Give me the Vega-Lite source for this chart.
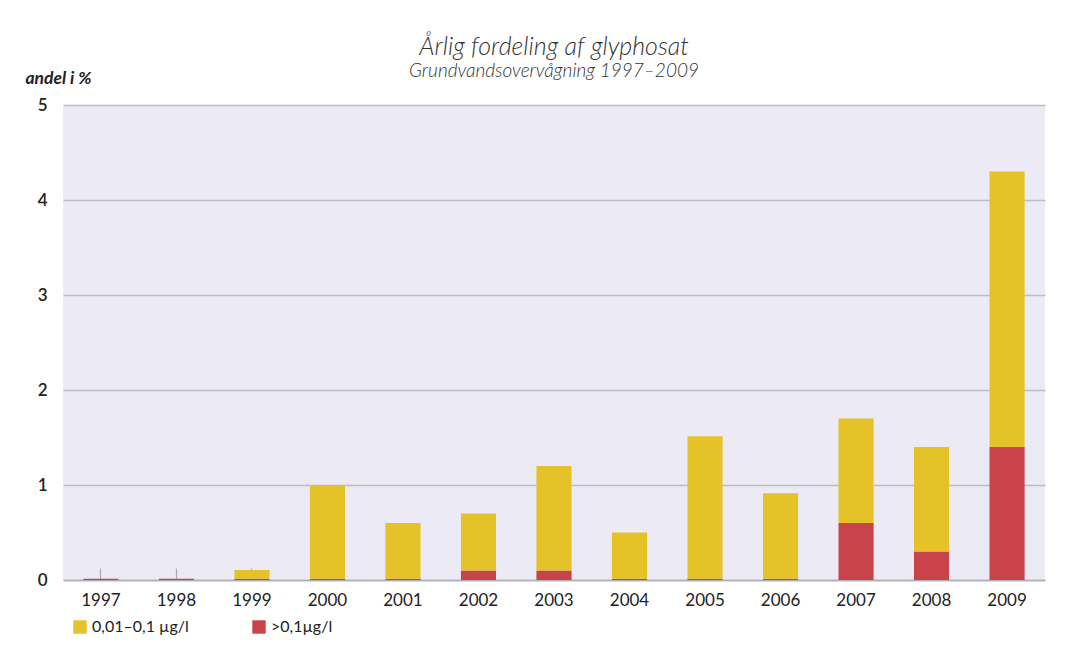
{
  "$schema": "https://vega.github.io/schema/vega-lite/v6.json",
  "width": 982,
  "height": 475,
  "autosize": {"type": "none"},
  "padding": {"left": 63, "top": 105, "right": 21, "bottom": 75},
  "background": "white",
  "title": {
    "text": "Årlig fordeling af glyphosat",
    "subtitle": "Grundvandsovervågning 1997–2009",
    "anchor": "middle",
    "font": "Lato",
    "fontStyle": "italic",
    "fontWeight": 300,
    "fontSize": 25,
    "color": "#333333",
    "subtitleFont": "Lato",
    "subtitleFontStyle": "italic",
    "subtitleFontWeight": 300,
    "subtitleFontSize": 19,
    "subtitleColor": "#333333",
    "subtitlePadding": 2,
    "offset": -12
  },
  "data": {
    "values": [
      {"year": "1997", "cat": ">0,1µg/l", "ord": 1, "value": 0.012},
      {"year": "1997", "cat": "0,01–0,1 µg/l", "ord": 2, "value": 0},
      {"year": "1998", "cat": ">0,1µg/l", "ord": 1, "value": 0.012},
      {"year": "1998", "cat": "0,01–0,1 µg/l", "ord": 2, "value": 0},
      {"year": "1999", "cat": ">0,1µg/l", "ord": 1, "value": 0.012},
      {"year": "1999", "cat": "0,01–0,1 µg/l", "ord": 2, "value": 0.093},
      {"year": "2000", "cat": ">0,1µg/l", "ord": 1, "value": 0.012},
      {"year": "2000", "cat": "0,01–0,1 µg/l", "ord": 2, "value": 0.988},
      {"year": "2001", "cat": ">0,1µg/l", "ord": 1, "value": 0.012},
      {"year": "2001", "cat": "0,01–0,1 µg/l", "ord": 2, "value": 0.588},
      {"year": "2002", "cat": ">0,1µg/l", "ord": 1, "value": 0.1},
      {"year": "2002", "cat": "0,01–0,1 µg/l", "ord": 2, "value": 0.6},
      {"year": "2003", "cat": ">0,1µg/l", "ord": 1, "value": 0.1},
      {"year": "2003", "cat": "0,01–0,1 µg/l", "ord": 2, "value": 1.1},
      {"year": "2004", "cat": ">0,1µg/l", "ord": 1, "value": 0.012},
      {"year": "2004", "cat": "0,01–0,1 µg/l", "ord": 2, "value": 0.488},
      {"year": "2005", "cat": ">0,1µg/l", "ord": 1, "value": 0.012},
      {"year": "2005", "cat": "0,01–0,1 µg/l", "ord": 2, "value": 1.5},
      {"year": "2006", "cat": ">0,1µg/l", "ord": 1, "value": 0.012},
      {"year": "2006", "cat": "0,01–0,1 µg/l", "ord": 2, "value": 0.9},
      {"year": "2007", "cat": ">0,1µg/l", "ord": 1, "value": 0.6},
      {"year": "2007", "cat": "0,01–0,1 µg/l", "ord": 2, "value": 1.1},
      {"year": "2008", "cat": ">0,1µg/l", "ord": 1, "value": 0.3},
      {"year": "2008", "cat": "0,01–0,1 µg/l", "ord": 2, "value": 1.1},
      {"year": "2009", "cat": ">0,1µg/l", "ord": 1, "value": 1.4},
      {"year": "2009", "cat": "0,01–0,1 µg/l", "ord": 2, "value": 2.9}
    ]
  },
  "mark": {"type": "bar"},
  "encoding": {
    "x": {
      "field": "year",
      "type": "ordinal",
      "scale": {"paddingInner": 0.535, "paddingOuter": 0.27},
      "axis": {
        "title": null,
        "labelAngle": 0,
        "labelFont": "Lato",
        "labelFontSize": 17,
        "labelColor": "#222222",
        "labelPadding": 24,
        "domain": true,
        "domainColor": "#ADADB5",
        "domainWidth": 1.5,
        "ticks": true,
        "tickSize": -12,
        "tickColor": "#A8A8B0",
        "tickWidth": 1.2,
        "grid": false
      }
    },
    "y": {
      "field": "value",
      "type": "quantitative",
      "stack": "zero",
      "scale": {"domain": [0, 5], "nice": false},
      "axis": {
        "values": [0, 1, 2, 3, 4, 5],
        "title": "andel i %",
        "titleAngle": 0,
        "titleX": -38,
        "titleY": -22,
        "titleAlign": "left",
        "titleBaseline": "alphabetic",
        "titleFont": "Lato",
        "titleFontSize": 17.5,
        "titleFontStyle": "italic",
        "titleFontWeight": "bold",
        "titleColor": "#222222",
        "labelFont": "Lato",
        "labelFontSize": 17,
        "labelFontWeight": 600,
        "labelColor": "#222222",
        "labelPadding": 16,
        "domain": false,
        "ticks": false,
        "grid": true,
        "gridColor": "#BDBCC4",
        "gridWidth": 1.5
      }
    },
    "color": {
      "field": "cat",
      "type": "nominal",
      "scale": {
        "domain": ["0,01–0,1 µg/l", ">0,1µg/l"],
        "range": ["#E6C229", "#C9444A"]
      },
      "legend": {
        "title": null,
        "orient": "none",
        "legendX": 9,
        "legendY": 514,
        "direction": "horizontal",
        "symbolType": "square",
        "symbolSize": 180,
        "symbolStrokeWidth": 0,
        "labelFont": "Lato",
        "labelFontSize": 16,
        "labelColor": "#222222",
        "labelOffset": 4,
        "columnPadding": 62
      }
    },
    "order": {"field": "ord", "type": "quantitative"}
  },
  "config": {
    "view": {"fill": "#ECEBF5", "stroke": null}
  }
}
